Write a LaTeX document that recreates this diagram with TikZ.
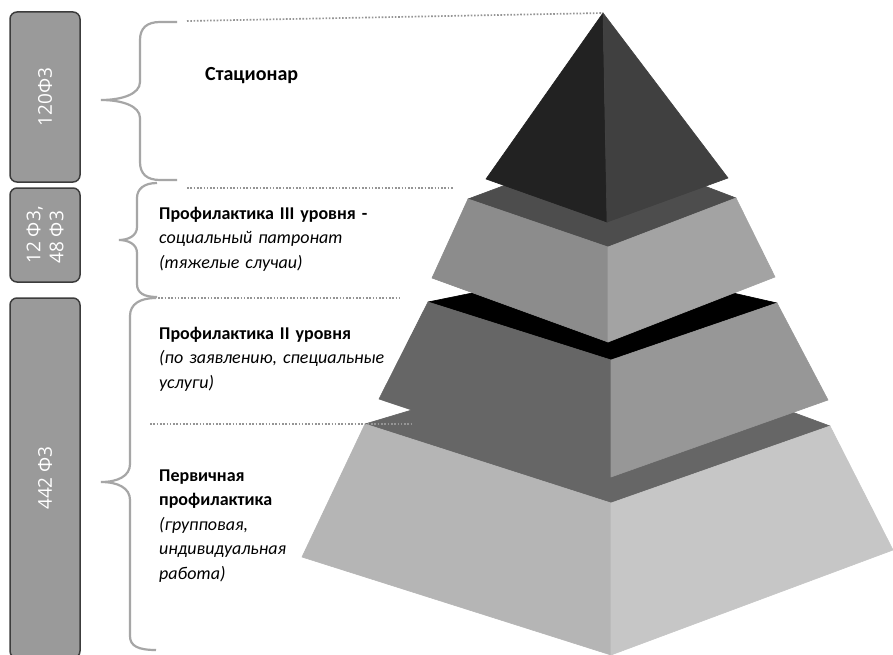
\documentclass[tikz,border=0pt]{standalone}
\usepackage{fontspec}
\setmainfont{Carlito}
\newfontfamily\barfont{Open Sans}
\definecolor{barfill}{HTML}{9A9A9A}
\definecolor{barline}{HTML}{3C3C3C}
\definecolor{bracegray}{HTML}{A6A6A6}
\definecolor{dotgray}{HTML}{959595}
\definecolor{topleft}{HTML}{222222}
\definecolor{topright}{HTML}{404040}
\definecolor{thirdtop}{HTML}{4D4D4D}
\definecolor{thirdleft}{HTML}{8C8C8C}
\definecolor{thirdright}{HTML}{A3A3A3}
\definecolor{secondleft}{HTML}{666666}
\definecolor{secondright}{HTML}{979797}
\definecolor{firsttop}{HTML}{666666}
\definecolor{firstleft}{HTML}{B5B5B5}
\definecolor{firstright}{HTML}{C6C6C6}
\tikzset{
  bar/.style={draw=barline, fill=barfill, line width=1.5pt, rounded corners=7pt,
    rotate=90, minimum height=70pt, inner sep=0pt, text=white, align=left,
    font=\barfont\fontsize{19}{23}\selectfont},
  brace/.style={draw=bracegray, line width=2.2pt},
  guide/.style={draw=dotgray, line width=1.7pt, dash pattern=on 1.6pt off 1.7pt},
  face/.style={line width=0.6pt, line join=round},
  levtext/.style={anchor=base west, inner sep=0pt, align=left, text width=260pt,
    font=\fontsize{18}{24.6}\selectfont},
}
\begin{document}
\begin{tikzpicture}[x=1pt,y=-1pt]
  \useasboundingbox[fill=white] (0,0) rectangle (893,655);
  % bars on the left
  \node[bar, minimum width=170pt] (fz120) at (45,97) {120Ф3};
  \node[bar, minimum width=94pt] (fz12) at (45,235) {12 Ф3,\\48 Ф3};
  \node[bar, minimum width=360pt] (fz442) at (45,478) {442 Ф3};
  % braces
  \draw[brace] (177,22) -- (160,22) .. controls (147,22) and (140,28) .. (140,40)
    -- (140,82) .. controls (140,94) and (122,100) .. (101,100)
    .. controls (122,100) and (140,106) .. (140,118) -- (140,162)
    .. controls (140,174) and (147,180) .. (160,180) -- (177,180);
  \draw[brace] (157,183) .. controls (144,183) and (137,189) .. (137,198)
    -- (137,227) .. controls (137,236) and (128,240) .. (119,240)
    .. controls (128,240) and (137,244) .. (137,253) -- (137,284)
    .. controls (137,293) and (144,297) .. (157,297);
  \draw[brace] (156,298) .. controls (140,298) and (130,304) .. (130,316)
    -- (130,464) .. controls (130,476) and (118,482) .. (101,482)
    .. controls (118,482) and (130,488) .. (130,500) -- (130,636)
    .. controls (130,646) and (138,650) .. (156,650);
  % pyramid, bottom layer first
  \filldraw[face, firsttop] (365,424) -- (619,348) -- (830,426) -- (611,503) -- cycle;
  \filldraw[face, firstleft] (365,424) -- (611,503) -- (611,655) -- (302,557) -- cycle;
  \filldraw[face, firstright] (611,503) -- (830,426) -- (893,550) -- (611,655) -- cycle;
  \filldraw[face, black] (428,302) -- (610,265) -- (777,303) -- (611,360) -- cycle;
  \filldraw[face, secondleft] (428,302) -- (611,360) -- (611,477) -- (379,399) -- cycle;
  \filldraw[face, secondright] (611,360) -- (777,303) -- (828,400) -- (611,477) -- cycle;
  \filldraw[face, thirdtop] (468,199) -- (605,148) -- (736,198) -- (608,247) -- cycle;
  \filldraw[face, thirdleft] (468,199) -- (608,247) -- (608,342) -- (432,278) -- cycle;
  \filldraw[face, thirdright] (608,247) -- (736,198) -- (775,277) -- (608,342) -- cycle;
  \coordinate (apex) at (603,13);
  \filldraw[face, topleft] (apex) -- (486,179) -- (607,222) -- cycle;
  \filldraw[face, topright] (apex) -- (607,222) -- (728,178) -- cycle;
  % dotted guides
  \draw[guide] (187,21) -- (apex);
  \draw[guide] (187,188) -- (453,188);
  \draw[guide] (158,298) -- (400,298);
  \draw[guide] (150,424) -- (413,424);
  % level texts
  \node[levtext, font=\fontsize{20}{24.6}\selectfont] (stat) at (205,81) {\textbf{Стационар}};
  \node[levtext] (lev3) at (159,219) {\textbf{Профилактика III уровня -}\\
    \textit{социальный патронат}\\\textit{(тяжелые случаи)}};
  \node[levtext] (lev2) at (159,339) {\textbf{Профилактика II уровня}\\
    \textit{(по заявлению, специальные}\\\textit{услуги)}};
  \node[levtext] (lev1) at (159,481) {\textbf{Первичная}\\\textbf{профилактика}\\
    \textit{(групповая,}\\\textit{индивидуальная}\\\textit{работа)}};
\end{tikzpicture}
\end{document}
